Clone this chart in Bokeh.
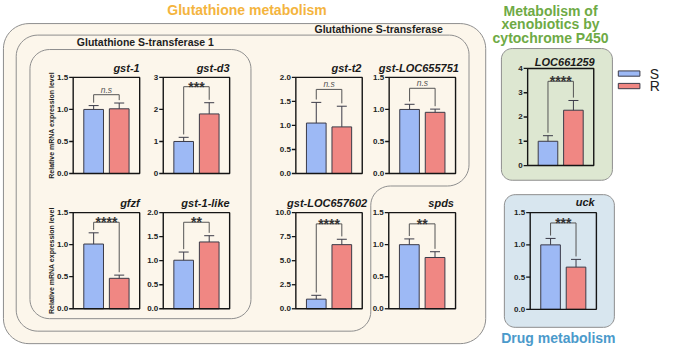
import numpy as np
from bokeh.plotting import figure
from bokeh.models import Range1d
from bokeh.embed import file_html
from bokeh.resources import INLINE
from bokeh.core.properties import value

# ---------------- data ----------------
genes = ["gst-1", "gst-d3", "gst-t2", "gst-LOC655751", "gfzf", "gst-1-like",
         "gst-LOC657602", "spds", "LOC661259", "uck"]
groups = ["S", "R"]
s_mean = [1.00, 1.00, 1.05, 1.00, 1.01, 1.01, 1.00, 1.00, 1.00, 1.00]
s_err = [0.06, 0.13, 0.43, 0.08, 0.175, 0.17, 0.40, 0.09, 0.23, 0.10]
r_mean = [1.01, 1.86, 0.97, 0.955, 0.475, 1.39, 6.67, 0.80, 2.28, 0.655]
r_err = [0.09, 0.35, 0.43, 0.05, 0.05, 0.13, 0.56, 0.09, 0.40, 0.12]
y_max = [1.5, 3, 2.0, 1.5, 1.5, 2.0, 10.0, 1.5, 4, 1.5]
y_ticks = [[0, 0.5, 1.0, 1.5], [0, 1, 2, 3], [0, 0.5, 1.0, 1.5, 2.0], [0, 0.5, 1.0, 1.5],
           [0, 0.5, 1.0, 1.5], [0, 0.5, 1.0, 1.5, 2.0], [0, 2.5, 5.0, 7.5, 10.0],
           [0, 0.5, 1.0, 1.5], [0, 1, 2, 3, 4], [0, 0.5, 1.0, 1.5]]
y_tick_labels = [["0.0", "0.5", "1.0", "1.5"], ["0", "1", "2", "3"],
                 ["0.0", "0.5", "1.0", "1.5", "2.0"], ["0.0", "0.5", "1.0", "1.5"],
                 ["0.0", "0.5", "1.0", "1.5"], ["0.0", "0.5", "1.0", "1.5", "2.0"],
                 ["0.0", "2.5", "5.0", "7.5", "10.0"], ["0.0", "0.5", "1.0", "1.5"],
                 ["0", "1", "2", "3", "4"], ["0.0", "0.5", "1.0", "1.5"]]
sig_label = ["n.s", "***", "n.s", "n.s", "****", "**", "****", "**", "****", "***"]
bracket_y = [1.23, 2.71, 1.75, 1.33, 1.35, 1.80, 8.83, 1.325, 3.47, 1.34]
y_label = "Relative mRNA expression level"

# ---------------- layout (reference pixel positions) ----------------
frame_left = [74, 165.7, 300.7, 395.7, 74, 165.7, 300.7, 395.3, 536.7, 539.3]
frame_right = [141.7, 233.3, 368.3, 463.3, 141.7, 233.3, 368.3, 463.3, 604, 606.7]
frame_top = [81, 81, 81, 81, 221.7, 221.7, 221.7, 221.7, 71.7, 221.7]
frame_bottom = [181, 181, 181, 181, 321.7, 321.7, 321.7, 321.7, 172.7, 322.3]
title_right = [141.7, 233.3, 367.5, 466.7, 141.7, 233.3, 373.3, 461.7, 605, 605]
title_gap = [10, 10, 10, 10, 10.5, 10.5, 10.5, 10.5, 6.7, 11]

FONT = "Liberation Sans"
BLUE = "#9DB9F5"
RED = "#F08783"
EDGE = "#3b3b48"
CREAM = "#FCF6EB"
GREENBG = "#DDE7D1"
BLUEBG = "#D8E6EF"
BOXLINE = "#8e8e8e"
ORANGE = "#F4B43E"
GREEN = "#6EAA45"
BLUETXT = "#4B9ACB"

W, H = 662, 347
XA, XB = 0, 674
YA, YB = 1, 362

p = figure(width=W, height=H, x_range=Range1d(XA, XB), y_range=Range1d(YB, YA),
           x_axis_type=None, y_axis_type=None, output_backend="svg",
           toolbar_location=None, min_border=0, outline_line_color=None,
           background_fill_color="white", border_fill_color="white")


def rounded(pts, rad, n=12):
    m = len(pts)
    if not isinstance(rad, (list, tuple)):
        rad = [rad] * m
    xs, ys = [], []
    t = np.linspace(0, 1, n)
    for i in range(m):
        px, py = pts[i]
        ax, ay = pts[i - 1]
        bx, by = pts[(i + 1) % m]
        da = np.hypot(ax - px, ay - py)
        db = np.hypot(bx - px, by - py)
        r = rad[i]
        p1 = (px + (ax - px) / da * r, py + (ay - py) / da * r)
        p2 = (px + (bx - px) / db * r, py + (by - py) / db * r)
        # circular-ish arc via rational quadratic bezier (weight for 90 deg)
        w = np.sqrt(2) / 2
        den = (1 - t) ** 2 + 2 * w * (1 - t) * t + t ** 2
        qx = ((1 - t) ** 2 * p1[0] + 2 * w * (1 - t) * t * px + t ** 2 * p2[0]) / den
        qy = ((1 - t) ** 2 * p1[1] + 2 * w * (1 - t) * t * py + t ** 2 * p2[1]) / den
        xs.extend(qx.tolist())
        ys.extend(qy.tolist())
    return xs, ys


outer = rounded([(3, 25), (494, 25), (494, 358), (3, 358)], 26)
gst = rounded([(16, 37), (477, 37), (477, 194), (377, 194), (377, 345), (16, 345)],
              [22, 20, 22, 20, 20, 22])
gst1 = rounded([(30, 52), (255, 52), (255, 332), (30, 332)], 20)
gbox = rounded([(510, 51), (623, 51), (623, 188), (510, 188)], 11)
bbox = rounded([(513, 203), (625, 203), (625, 341), (513, 341)], 11)
p.patches(xs=[outer[0], gst[0], gst1[0], gbox[0], bbox[0]],
          ys=[outer[1], gst[1], gst1[1], gbox[1], bbox[1]],
          fill_color=[CREAM, CREAM, CREAM, GREENBG, BLUEBG],
          line_color=BOXLINE, line_width=1)

# group titles
p.text(x=[251], y=[11], text=["Glutathione metabolism"], text_color=ORANGE,
       text_font=value(FONT), text_font_size="14px", text_font_style="bold",
       text_align="center", text_baseline="middle")
p.text(x=[385, 147.5], y=[31, 44],
       text=["Glutathione S-transferase", "Glutathione S-transferase 1"],
       text_color="#1e1e1e", text_font=value(FONT), text_font_size="10.5px",
       text_font_style="bold", text_align="center", text_baseline="middle")
p.text(x=[560, 560, 560], y=[11.7, 25.7, 40],
       text=["Metabolism of", "xenobiotics by", "cytochrome P450"], text_color=GREEN,
       text_font=value(FONT), text_font_size="14px", text_font_style="bold",
       text_align="center", text_baseline="middle")
p.text(x=[568], y=[352], text=["Drug metabolism"], text_color=BLUETXT,
       text_font=value(FONT), text_font_size="14px", text_font_style="bold",
       text_align="center", text_baseline="middle")
p.text(x=[51.5, 51.5], y=[131, 271.7], text=[y_label, y_label], angle=np.pi / 2,
       text_color="#1e1e1e", text_font=value(FONT), text_font_size="7px",
       text_font_style="bold", text_align="center", text_baseline="middle")

# panel titles
p.text(x=title_right, y=[frame_top[i] - title_gap[i] for i in range(len(genes))],
       text=genes, text_color="#1a1a1a", text_font=value(FONT), text_font_size="11px",
       text_font_style="bold italic", text_align="right", text_baseline="middle")

XS0, XS1 = 0.2, 2.8
BAR_W = 0.77
for i in range(len(genes)):
    sp = p.subplot(x_source=Range1d(XS0, XS1), y_source=Range1d(0, y_max[i]),
                   x_target=Range1d(frame_left[i], frame_right[i]),
                   y_target=Range1d(frame_bottom[i], frame_top[i]))
    s_top = s_mean[i] + s_err[i]
    r_top = r_mean[i] + r_err[i]
    sp.vbar(x=[1], top=[s_mean[i]], bottom=0, width=BAR_W, fill_color=BLUE,
            line_color=EDGE, line_width=1)
    sp.vbar(x=[2], top=[r_mean[i]], bottom=0, width=BAR_W, fill_color=RED,
            line_color=EDGE, line_width=1)
    sp.segment(x0=[1, 2], y0=[s_mean[i], r_mean[i]], x1=[1, 2], y1=[s_top, r_top],
               line_color=EDGE, line_width=1)
    sp.scatter(x=[1, 2], y=[s_top, r_top], marker="dash", size=10,
               line_color=EDGE, line_width=1)
    # frame
    sp.quad(left=[XS0], right=[XS1], bottom=[0], top=[y_max[i]], fill_color=None,
            line_color="#151515", line_width=1.4)
    t = y_ticks[i]
    sp.ray(x=[XS0] * len(t), y=t, length=4, length_units="screen", angle=np.pi,
           line_color="#151515", line_width=1.3)
    sp.text(x=[XS0] * len(t), y=t, text=y_tick_labels[i], x_offset=-5,
            text_align="right", text_baseline="middle", text_font=value(FONT),
            text_font_size="8px", text_font_style="bold", text_color="#222222")
    # significance bracket
    gap = 0.03 * y_max[i]
    by = bracket_y[i]
    sp.multi_line(xs=[[1, 1, 2, 2]], ys=[[s_top + gap, by, by, r_top + gap]],
                  line_color="#555555", line_width=1)
    if sig_label[i] == "n.s":
        sp.text(x=[1.5], y=[by], text=[sig_label[i]], text_align="center",
                text_baseline="bottom", text_font=value(FONT), text_font_size="8.5px",
                text_font_style="italic", text_color="#555555")
    else:
        sp.text(x=[1.5], y=[by], text=[sig_label[i]], text_align="center",
                text_baseline="middle", text_font=value(FONT), text_font_size="14px",
                text_font_style="bold", text_color="#333333")

# legend
p.rect(x=[640, 640], y=[77, 90], width=22, height=5.5, fill_color=[BLUE, RED],
       line_color=EDGE, line_width=1)
p.text(x=[661, 661], y=[77, 90], text=groups, text_font=value(FONT),
       text_font_size="14px", text_color="#222222", text_align="left",
       text_baseline="middle")

open("out.html", "w").write(file_html(p, INLINE))
